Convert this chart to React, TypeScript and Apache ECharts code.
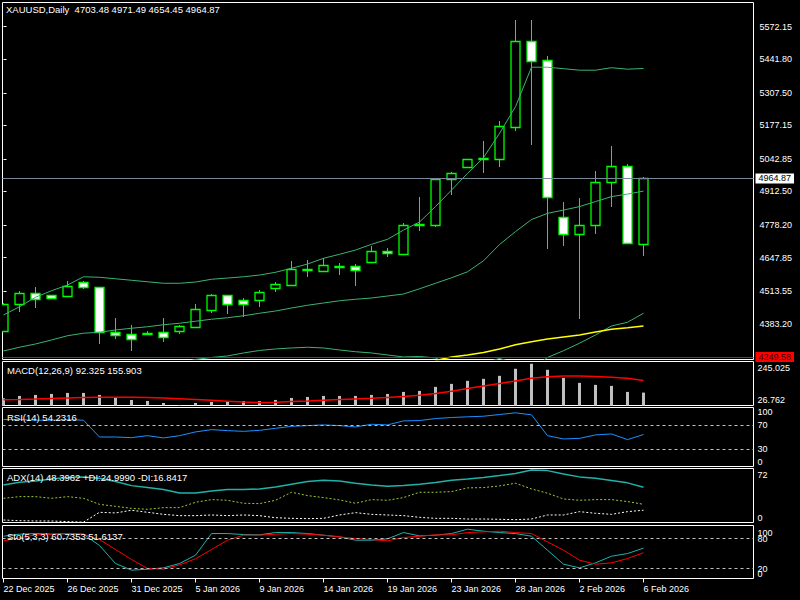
import React, { useEffect, useRef } from 'react';
import * as echarts from 'echarts';

const SYMBOL = 'XAUUSD';
const PERIOD = 'Daily';
const FONT = '"Liberation Sans", Arial, sans-serif';

const DATES = [
  '22 Dec 2025', '23 Dec 2025', '24 Dec 2025', '25 Dec 2025', '26 Dec 2025', '28 Dec 2025', '29 Dec 2025',
  '30 Dec 2025', '31 Dec 2025', '1 Jan 2026', '2 Jan 2026', '4 Jan 2026', '5 Jan 2026', '6 Jan 2026',
  '7 Jan 2026', '8 Jan 2026', '9 Jan 2026', '11 Jan 2026', '12 Jan 2026', '13 Jan 2026', '14 Jan 2026',
  '15 Jan 2026', '16 Jan 2026', '18 Jan 2026', '19 Jan 2026', '20 Jan 2026', '21 Jan 2026', '22 Jan 2026',
  '23 Jan 2026', '25 Jan 2026', '26 Jan 2026', '27 Jan 2026', '28 Jan 2026', '29 Jan 2026', '30 Jan 2026',
  '1 Feb 2026', '2 Feb 2026', '3 Feb 2026', '4 Feb 2026', '5 Feb 2026', '6 Feb 2026',
];

const OPEN = [4355, 4461, 4505, 4497, 4495, 4549, 4529, 4350, 4342, 4344, 4349, 4355, 4371, 4439, 4498, 4478, 4477, 4525, 4538, 4599, 4595, 4613, 4613, 4631, 4673, 4663, 4778, 4780, 4961, 5009, 5043, 5044, 5172, 5514, 5438, 4809, 4741, 4777, 4949, 5013, 4703.48];
const HIGH = [4466, 4514, 4530, 4500, 4553, 4554, 4531, 4406, 4378, 4352, 4406, 4377, 4462, 4501, 4500, 4487, 4518, 4551, 4634, 4638, 4647, 4626, 4621, 4694, 4685, 4785, 4890, 4963, 4989, 5043, 5115, 5195, 5599, 5599, 5455, 4870, 4885, 4993, 5095, 5023, 4971.49];
const LOW = [4350, 4431, 4447, 4484, 4491, 4523, 4303, 4323, 4275, 4340, 4311, 4343, 4370, 4426, 4423, 4409, 4451, 4511, 4534, 4571, 4595, 4578, 4534, 4631, 4651, 4658, 4755, 4772, 4898, 5007, 4988, 5012, 5156, 5099, 4682, 4696, 4403, 4744, 4852, 4703, 4654.45];
const CLOSE = [4462, 4505, 4481, 4488, 4534, 4529, 4350, 4339, 4321, 4347, 4331, 4374, 4442, 4498, 4463, 4463, 4509, 4541, 4601, 4601, 4617, 4615, 4597, 4673, 4665, 4777, 4781, 4961, 4985, 5041, 5045, 5173, 5514, 5436, 4889, 4741, 4777, 4949, 5013, 4705, 4964.87];

const BB_UPPER = [4418, 4451, 4489, 4515, 4538, 4571, 4569, 4563, 4557, 4551, 4545, 4545, 4550, 4561, 4566, 4571, 4578, 4589, 4605, 4622, 4645, 4661, 4678, 4701, 4721, 4758, 4790, 4852, 4918, 4985, 5048, 5145, 5252, 5410, 5410, 5404, 5398, 5398, 5408, 5402, 5405];
const BB_MID = [4274, 4289, 4302, 4318, 4335, 4345, 4349, 4358, 4365, 4371, 4379, 4385, 4393, 4401, 4407, 4415, 4425, 4434, 4446, 4457, 4466, 4475, 4481, 4486, 4494, 4502, 4523, 4545, 4567, 4591, 4635, 4700, 4752, 4800, 4825, 4838, 4852, 4872, 4892, 4902, 4914];
const BB_LOWER = [4130, 4126, 4115, 4121, 4132, 4119, 4129, 4153, 4173, 4191, 4213, 4225, 4240, 4248, 4254, 4266, 4276, 4282, 4286, 4289, 4286, 4278, 4271, 4266, 4258, 4250, 4252, 4246, 4216, 4200, 4225, 4244, 4225, 4200, 4248, 4275, 4305, 4338, 4374, 4389, 4425];
const MA_SLOW = [null, null, null, null, null, null, null, null, null, null, null, null, null, null, null, null, null, null, null, null, null, null, null, null, null, null, null, 4236, 4250, 4258, 4268, 4282, 4299, 4311, 4322, 4330, 4338, 4350, 4361, 4367, 4374];

const ALERT_LEVEL = 4249.58;
const PRICE_TICKS = [4383.2, 4513.55, 4647.85, 4778.2, 4912.5, 5042.85, 5177.15, 5307.5, 5441.8, 5572.15];

const MACD_HIST = [62.4, 74.7, 80, 85.3, 90.6, 90.6, 80, 64, 53.4, 48.1, 37.4, 26.762, 37.4, 42.7, 48, 48, 48, 53.4, 64, 69.3, 74.7, 74.7, 74.7, 80, 85.3, 96, 101.3, 122.6, 138.5, 154.5, 165.1, 181.1, 218.4, 245.025, 213, 170.5, 143.8, 133.2, 127.9, 96, 92.325];
const MACD_SIGNAL = [55, 56, 58, 61, 64, 67, 68, 68, 68, 67, 64, 60, 56, 52, 47, 42, 40, 41, 45, 48, 52, 56, 59, 62, 67, 72, 78, 87, 100, 114, 127, 140, 154, 168, 176, 180, 180, 178, 174, 168, 155.903];
const MACD_TICKS = [26.762, 245.025];

const RSI = [79.6, 79.6, 78.4, 78.4, 79.6, 78.4, 50, 50, 48.9, 52.3, 48.4, 52.3, 58.6, 62.5, 60.8, 59.6, 61.3, 64.7, 68.1, 69.3, 70.5, 69.3, 67.1, 71.6, 70.5, 77.3, 77.9, 81.3, 83, 84.2, 85.2, 88.1, 91, 87.6, 52.3, 46.7, 47.7, 53.5, 55.2, 45.5, 54.2316];
const RSI_LEVELS = [70, 30];
const RSI_TICKS = [0, 30, 70, 100];

const ADX = [51.6, 55.2, 57.1, 59.8, 61.7, 62.6, 60.8, 56.2, 50.6, 47.9, 45.2, 40.6, 40.6, 43.3, 45.2, 45.2, 46.1, 48.8, 52.5, 56.2, 58, 57.1, 53.9, 51.6, 49.8, 50.7, 52.5, 54.8, 58, 59.8, 61.7, 64.4, 67.3, 72, 71.2, 66.7, 62.6, 60.8, 57.6, 54.4, 48.3962];
const PLUS_DI = [33.2, 35.5, 35.5, 33.2, 35.5, 33.2, 24.9, 22.2, 19.4, 18.1, 20.4, 20.4, 27.7, 31.4, 30.5, 26.4, 25.9, 30.5, 41.5, 36.9, 34.2, 31, 26.4, 31.4, 30.5, 34.2, 41.5, 41.5, 42.4, 47.5, 47.9, 50.2, 53.9, 46.1, 40.2, 32.3, 30.5, 31.4, 31.4, 28.7, 24.999];
const MINUS_DI = [3.4, 2.5, 2.1, 2.1, 1.2, 0.5, 14, 13.1, 16.8, 14, 11.2, 9.4, 9.4, 10.3, 9.4, 10.3, 9.4, 6.6, 5.7, 5.3, 5.7, 10.3, 13.5, 11.2, 10.3, 9.4, 7.1, 5.7, 5.7, 4.8, 4.8, 4.4, 3.9, 4.8, 10.3, 10.3, 14.9, 12.6, 11.2, 14.9, 16.8417];
const ADX_TICKS = [0, 72];

const STO_K = [84.6, 88.6, 89.9, 88.6, 89.9, 88.6, 66, 30, 16.6, 18.6, 21.3, 30, 46.6, 89.9, 89.9, 87.9, 87.3, 91.9, 91.9, 89.9, 86.6, 83.3, 76.6, 76.6, 79.3, 91.9, 85.3, 86.6, 89.9, 98.6, 94.6, 91.9, 89.9, 84.6, 56.6, 28.6, 21.3, 31.3, 44.6, 49.9, 60.7353];
const STO_D = [75.3, 81.3, 87.3, 88.6, 89.9, 88.6, 78, 58, 38, 20, 18.6, 27.3, 39.3, 58, 76.6, 86.6, 86.6, 88.6, 89.9, 88.6, 86.6, 83.3, 79.9, 77.9, 75.3, 81.9, 84.6, 87.3, 87.3, 91.9, 93.3, 94.6, 91.9, 89.9, 73.3, 56.6, 36.6, 28.6, 31.3, 39.9, 51.6137];
const STO_LEVELS = [80, 20];
const STO_EDGE_TICKS = [0, 100];

const LABEL_EVERY = 4;

const last = (a: number[]) => a[a.length - 1];
const pts = (a: (number | null)[]) => a.map((v, i) => [i, v]);

export default function App() {
  const ref = useRef<HTMLDivElement>(null);

  useEffect(() => {
    const chart = echarts.init(ref.current!, null, { renderer: 'svg' });
    const n = DATES.length - 1;
    const X_MIN = -0.0625;
    const X_MAX = 46.875;
    const grids = [
      { top: 2.5, height: 357 },
      { top: 361.5, height: 44 },
      { top: 407.5, height: 59 },
      { top: 468.5, height: 54 },
      { top: 525.5, height: 53 },
    ];
    const dateTicks = DATES.map((_, i) => i).filter((i) => i % LABEL_EVERY === 0);

    const xAxes = grids.map((_, gi) => ({
      type: 'value',
      gridIndex: gi,
      min: X_MIN,
      max: X_MAX,
      splitLine: { show: false },
      axisLine: { show: false },
      axisTick: gi === 4
        ? { show: true, customValues: dateTicks, length: 4, lineStyle: { color: '#fff' } }
        : { show: false },
      axisLabel: gi === 4
        ? {
            show: true,
            customValues: dateTicks,
            formatter: (v: number) => DATES[Math.round(v)] ?? '',
            color: '#fff',
            fontSize: 9,
            fontFamily: FONT,
            align: 'left',
            margin: 6,
            hideOverlap: false,
          }
        : { show: false },
    }));

    const subAxis = (
      gi: number,
      min: number,
      max: number,
      ticks: number[],
      fmt?: (v: number) => string,
      edges = true,
    ) => ({
      type: 'value',
      gridIndex: gi,
      position: 'right',
      min,
      max,
      splitLine: { show: false },
      axisLine: { show: false },
      axisTick: { show: false },
      axisLabel: {
        customValues: ticks,
        formatter: fmt ?? ((v: number) => String(v)),
        color: '#fff',
        fontSize: 9,
        fontFamily: FONT,
        margin: 4,
        hideOverlap: false,
        ...(edges ? { verticalAlignMinLabel: 'bottom', verticalAlignMaxLabel: 'top' } : {}),
      },
    });

    const yAxes = [
      {
        type: 'value',
        gridIndex: 0,
        position: 'right',
        min: 4239.85,
        max: 5669.03,
        splitLine: { show: false },
        axisLine: { show: false },
        axisTick: { show: true, customValues: PRICE_TICKS, length: 3, lineStyle: { color: '#fff' } },
        axisLabel: {
          customValues: PRICE_TICKS,
          formatter: (v: number) => v.toFixed(2),
          color: '#fff',
          fontSize: 9,
          fontFamily: FONT,
          margin: 6,
        },
      },
      subAxis(1, 24.1, 256.9, MACD_TICKS, (v: number) => v.toFixed(3)),
      subAxis(2, 0, 100, RSI_TICKS),
      subAxis(3, 0, 74.1, ADX_TICKS),
      subAxis(4, 0, 106, STO_EDGE_TICKS),
      subAxis(4, 0, 106, STO_LEVELS.slice().sort((a, b) => a - b), undefined, false),
    ];

    const levelLine = (levels: number[]) => ({
      silent: true,
      symbol: ['none', 'none'],
      label: { show: false },
      lineStyle: { color: '#c0c0c0', type: [3, 3], width: 1 },
      data: levels.map((v) => ({ yAxis: v })),
    });

    const line = (data: (number | null)[], gi: number, color: string, width = 1, type: any = 'solid', extra: any = {}) => ({
      type: 'line',
      xAxisIndex: gi,
      yAxisIndex: gi,
      data: pts(data),
      showSymbol: false,
      symbol: 'none',
      lineStyle: { color, width, type },
      silent: true,
      ...extra,
    });

    const candleData = DATES.map((_, i) => [i, OPEN[i], CLOSE[i], LOW[i], HIGH[i]]);

    const option = {
      animation: false,
      backgroundColor: '#000',
      grid: grids.map((g) => ({
        left: 2.5,
        width: 751,
        top: g.top,
        height: g.height,
        show: true,
        borderColor: '#ffffff',
        borderWidth: 1,
        backgroundColor: '#000',
      })),
      xAxis: xAxes,
      yAxis: yAxes,
      series: [
        line(BB_UPPER, 0, '#3cb371', 1, 'solid', {
          markLine: {
            silent: true,
            symbol: ['none', 'none'],
            data: [
              {
                yAxis: last(CLOSE),
                lineStyle: { color: '#778899', width: 1, type: 'solid' },
                label: {
                  show: true,
                  position: 'end',
                  distance: 2,
                  formatter: last(CLOSE).toFixed(2),
                  backgroundColor: '#ffffff',
                  color: '#000',
                  padding: [1, 3, 0, 3],
                  fontSize: 9,
                  fontFamily: FONT,
                },
              },
              {
                yAxis: ALERT_LEVEL,
                lineStyle: { color: '#ff0000', width: 1, type: 'solid' },
                label: {
                  show: true,
                  position: 'end',
                  distance: 2,
                  formatter: ALERT_LEVEL.toFixed(2),
                  backgroundColor: '#ff0000',
                  color: '#3a0000',
                  padding: [1, 3, 0, 3],
                  fontSize: 9,
                  fontFamily: FONT,
                },
              },
            ],
          },
        }),
        line(BB_MID, 0, '#3cb371'),
        line(BB_LOWER, 0, '#3cb371'),
        line(MA_SLOW, 0, '#ffff00', 1.5),
        {
          type: 'custom',
          xAxisIndex: 0,
          yAxisIndex: 0,
          clip: true,
          silent: true,
          data: candleData,
          encode: { x: 0, y: [1, 2, 3, 4] },
          renderItem: (params: any, api: any) => {
            const i = api.value(0);
            const o = api.value(1);
            const c = api.value(2);
            const l = api.value(3);
            const h = api.value(4);
            const pO = api.coord([i, o]);
            const pC = api.coord([i, c]);
            const pH = api.coord([i, h]);
            const pL = api.coord([i, l]);
            const cx = Math.floor(pO[0]) + 0.5;
            const top = Math.round(Math.min(pO[1], pC[1])) + 0.5;
            let bot = Math.round(Math.max(pO[1], pC[1])) + 0.5;
            if (bot - top < 1) bot = top + 1;
            const bull = c >= o;
            return {
              type: 'group',
              children: [
                {
                  type: 'line',
                  shape: { x1: cx, y1: Math.round(pH[1]), x2: cx, y2: Math.round(pL[1]) },
                  style: { stroke: '#00ff00', lineWidth: 1 },
                },
                {
                  type: 'rect',
                  shape: { x: cx - 4.5, y: top, width: 9, height: bot - top },
                  style: { fill: bull ? '#000000' : '#ffffff', stroke: '#00ff00', lineWidth: 1.3 },
                },
              ],
            };
          },
        },
        {
          type: 'bar',
          xAxisIndex: 1,
          yAxisIndex: 1,
          data: pts(MACD_HIST),
          barWidth: 3,
          itemStyle: { color: '#c0c0c0' },
          silent: true,
        },
        line(MACD_SIGNAL, 1, '#ff0000', 1.5),
        line(RSI, 2, '#1e90ff', 1, 'solid', { markLine: levelLine(RSI_LEVELS) }),
        line(ADX, 3, '#20b2aa', 1.5),
        line(PLUS_DI, 3, '#9acd32', 1, [2, 2]),
        line(MINUS_DI, 3, '#ffffff', 1, [2, 2]),
        line(STO_K, 4, '#20b2aa', 1, 'solid', { markLine: levelLine(STO_LEVELS) }),
        line(STO_D, 4, '#ff0000', 1),
      ],
      graphic: [
        {
          type: 'text',
          left: 3,
          top: 3,
          z: 100,
          style: {
            text: `${SYMBOL},${PERIOD} \u00a0${OPEN[n].toFixed(2)} ${HIGH[n].toFixed(2)} ${LOW[n].toFixed(2)} ${CLOSE[n].toFixed(2)}`,
            fill: '#fff',
            font: `9.5px ${FONT}`,
            backgroundColor: '#000',
            padding: [1, 3, 2, 3],
          },
        },
        {
          type: 'text',
          left: 7,
          top: 365,
          z: 100,
          style: {
            text: `MACD(12,26,9) ${last(MACD_HIST).toFixed(3)} ${last(MACD_SIGNAL).toFixed(3)}`,
            fill: '#fff',
            font: `9.5px ${FONT}`,
          },
        },
        {
          type: 'text',
          left: 7,
          top: 412,
          z: 100,
          style: { text: `RSI(14) ${last(RSI).toFixed(4)}`, fill: '#fff', font: `9.5px ${FONT}` },
        },
        {
          type: 'text',
          left: 7,
          top: 472,
          z: 100,
          style: {
            text: `ADX(14) ${last(ADX).toFixed(4)} +DI:${last(PLUS_DI).toFixed(4)} -DI:${last(MINUS_DI).toFixed(4)}`,
            fill: '#fff',
            font: `9.5px ${FONT}`,
          },
        },
        {
          type: 'text',
          left: 7,
          top: 531,
          z: 100,
          style: {
            text: `Sto(5,3,3) ${last(STO_K).toFixed(4)} ${last(STO_D).toFixed(4)}`,
            fill: '#fff',
            font: `9.5px ${FONT}`,
          },
        },
      ],
    };

    chart.setOption(option as any);
    return () => chart.dispose();
  }, []);

  return (
    <div
      ref={ref}
      style={{ position: 'fixed', left: 0, top: 0, width: 800, height: 600, background: '#000' }}
    />
  );
}
